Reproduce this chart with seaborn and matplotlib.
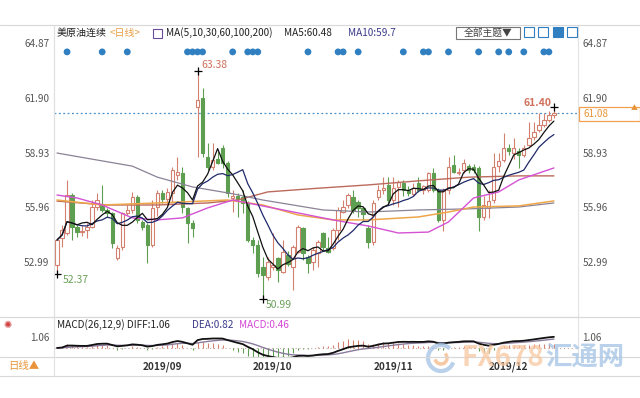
import numpy as np
import pandas as pd
import matplotlib
matplotlib.use("Agg")
import matplotlib.pyplot as plt
from matplotlib.patches import Rectangle, Arc
from matplotlib.lines import Line2D
import seaborn as sns

# daily candles (USD/bbl)
OPEN = [52.83, 54.30, 54.57, 56.63, 54.90, 54.62, 54.73, 54.90, 55.98, 56.09,
        55.82, 55.66, 53.21, 53.81, 55.66, 55.82, 56.53, 55.17, 55.01, 53.92,
        55.98, 56.74, 56.42, 56.74, 57.72, 57.83, 55.93, 55.12, 61.41, 61.90,
        58.70, 58.15, 58.60, 59.19, 58.37, 56.45, 56.60, 56.53, 56.20, 54.19,
        53.92, 52.73, 52.18, 52.73, 53.21, 52.45, 53.40, 52.73, 53.54, 54.84,
        53.27, 53.00, 53.49, 54.57, 53.76, 53.76, 54.73, 55.71, 56.09, 56.53,
        56.25, 55.93, 54.84, 54.08, 56.53, 56.90, 57.18, 56.36, 57.07, 57.29,
        56.91, 56.70, 57.29, 56.91, 56.91, 57.83, 56.91, 55.28, 56.91, 58.26,
        57.80, 58.00, 58.20, 58.15, 58.10, 55.44, 55.90, 56.36, 58.20, 58.53,
        59.19, 58.90, 59.00, 58.80, 59.35, 59.78, 60.16, 60.43, 60.71, 60.95]
HIGH = [54.30, 55.01, 57.45, 56.74, 55.01, 54.95, 55.10, 56.36, 56.74, 57.18,
        55.93, 55.71, 53.92, 55.71, 56.09, 56.80, 56.63, 55.28, 55.12, 56.36,
        56.91, 56.90, 57.00, 58.15, 58.70, 58.15, 55.98, 55.28, 63.38, 62.44,
        59.46, 59.46, 59.00, 59.35, 58.50, 56.90, 56.75, 56.91, 56.30, 54.35,
        54.19, 53.27, 53.27, 54.57, 53.27, 54.19, 53.60, 53.92, 55.01, 54.90,
        53.38, 53.81, 54.19, 54.62, 54.35, 54.84, 55.98, 56.36, 56.74, 56.91,
        56.36, 56.00, 55.00, 56.36, 57.18, 57.60, 57.60, 57.60, 57.45, 57.45,
        57.10, 57.30, 57.60, 57.20, 57.90, 58.10, 57.00, 57.00, 58.70, 58.80,
        58.10, 58.60, 58.30, 58.30, 58.20, 56.60, 56.90, 58.90, 58.90, 60.00,
        59.40, 59.70, 59.20, 59.35, 60.60, 60.60, 61.10, 61.10, 61.20, 61.40]
LOW = [52.37, 53.81, 54.46, 54.19, 54.35, 54.40, 54.30, 54.84, 55.82, 55.71,
       55.44, 53.76, 53.11, 53.65, 55.55, 55.66, 55.12, 54.73, 52.94, 53.81,
       55.50, 56.20, 56.10, 56.20, 57.45, 55.66, 54.03, 54.35, 58.70, 58.70,
       57.99, 57.99, 58.30, 58.10, 56.50, 55.70, 55.45, 55.66, 54.08, 53.49,
       52.18, 50.99, 52.02, 52.56, 51.90, 52.40, 52.80, 51.48, 53.49, 53.11,
       52.40, 52.56, 52.73, 53.65, 53.49, 53.65, 54.19, 55.66, 55.93, 55.66,
       55.44, 55.20, 53.76, 53.92, 56.36, 56.70, 56.09, 56.10, 55.98, 56.60,
       56.60, 56.60, 56.80, 56.70, 56.80, 56.80, 55.17, 54.70, 56.70, 57.80,
       57.70, 57.80, 57.80, 57.80, 54.70, 55.30, 55.40, 56.20, 57.90, 58.40,
       58.80, 58.60, 58.10, 58.70, 59.30, 59.60, 60.05, 60.30, 60.60, 60.80]
CLOSE = [54.19, 54.73, 56.63, 54.90, 54.62, 54.70, 54.90, 55.98, 56.36, 55.82,
         55.66, 54.03, 53.76, 55.66, 55.82, 56.53, 55.28, 54.90, 53.92, 55.93,
         56.74, 56.42, 56.80, 57.99, 57.88, 55.98, 55.12, 54.84, 61.79, 58.91,
         58.15, 58.53, 58.37, 58.37, 56.74, 56.60, 56.40, 56.20, 54.19, 53.92,
         52.40, 52.29, 53.00, 52.83, 52.56, 53.54, 52.90, 53.81, 54.90, 53.49,
         52.94, 53.65, 54.08, 53.81, 53.54, 54.73, 55.82, 55.98, 56.63, 55.82,
         55.93, 55.60, 54.08, 56.20, 56.91, 57.00, 56.36, 57.00, 57.34, 56.91,
         56.74, 57.00, 56.91, 57.10, 57.83, 56.91, 55.28, 56.91, 58.15, 57.88,
         57.90, 58.37, 58.00, 57.99, 55.44, 56.09, 56.30, 58.15, 58.50, 59.19,
         59.00, 59.19, 58.80, 59.19, 59.73, 60.05, 60.43, 60.71, 60.95, 61.08]

# longer moving averages, read at a few candles
MA30_IDX = [0, 4, 9, 15, 20, 25, 30, 35, 40, 48, 55, 62, 68, 74, 78, 83, 88, 92, 99]
MA30_VAL = [56.63, 56.47, 56.09, 55.39, 55.28, 55.39, 55.93, 56.36, 56.09, 55.66,
            55.28, 54.95, 54.57, 54.62, 55.17, 56.47, 56.80, 57.45, 58.10]
MA60_IDX = [0, 9, 20, 34, 41, 48, 55, 62, 72, 78, 83, 92, 99]
MA60_VAL = [56.36, 56.09, 56.20, 56.36, 56.09, 55.55, 55.28, 55.28, 55.44, 55.71,
            55.98, 56.04, 56.31]
MA100_IDX = [0, 8, 15, 20, 27, 35, 41, 47, 53, 62, 72, 82, 92, 99]
MA100_VAL = [58.91, 58.53, 58.20, 57.60, 57.07, 56.70, 56.36, 56.09, 55.82, 55.71,
             55.82, 55.88, 55.98, 56.20]
MA200_IDX = [0, 10, 20, 30, 36, 42, 52, 62, 72, 82, 92, 99]
MA200_VAL = [56.30, 56.09, 56.09, 56.20, 56.36, 56.80, 57.00, 57.18, 57.40, 57.60,
             57.67, 57.67]

EVENT_IDX = [2, 9, 14, 26, 27, 28, 29, 35, 38, 39, 40, 50, 56, 57, 60, 69, 73, 74,
             78, 84, 88, 90, 93, 97, 98]
MONTH_IDX = [21, 43, 67, 90]
MONTH_LABELS = ["2019/09", "2019/10", "2019/11", "2019/12"]
Y_TICKS = [52.99, 55.96, 58.93, 61.90, 64.87]
LAST_PRICE = 61.08

UP, DOWN = "#d4806f", "#5e9e50"
W, H = 640, 398


def fx(px):
    return px / W


def fy(py):
    return 1 - py / H


sns.set_theme(style="white")
plt.rcParams["font.family"] = ["Noto Sans CJK SC", "DejaVu Sans"]

fig = plt.figure(figsize=(6.4, 3.98), dpi=100)
ax = fig.add_axes([fx(54), fy(317), fx(578 - 54), (317 - 25) / H])
axm = fig.add_axes([fx(54), fy(357), fx(578 - 54), (357 - 317) / H], sharex=ax)

df = pd.DataFrame({"open": OPEN, "high": HIGH, "low": LOW, "close": CLOSE})
df["i"] = np.arange(len(df))
rising = df["close"] >= df["open"]

# candles
for colr, face, mask in ((UP, "white", rising), (DOWN, DOWN, ~rising)):
    d = df[mask]
    ax.vlines(d["i"], d["low"], d["high"], color=colr, lw=0.8, zorder=2)
    lo = np.minimum(d["open"], d["close"])
    hgt = np.maximum((d["close"] - d["open"]).abs(), 0.05)
    ax.bar(d["i"], hgt, bottom=lo, width=0.68, facecolor=face, edgecolor=colr,
           lw=0.8, zorder=3)

# moving averages
ma5 = df["close"].rolling(5, min_periods=1).mean()
ma10 = df["close"].rolling(10, min_periods=1).mean()
sns.lineplot(x=MA200_IDX, y=MA200_VAL, color="#bb6a5c", lw=1.0, ax=ax, zorder=4)
sns.lineplot(x=MA100_IDX, y=MA100_VAL, color="#8a8296", lw=0.9, ax=ax, zorder=4)
sns.lineplot(x=MA60_IDX, y=MA60_VAL, color="#eea64a", lw=1.1, ax=ax, zorder=4)
sns.lineplot(x=MA30_IDX, y=MA30_VAL, color="#d452d4", lw=1.0, ax=ax, zorder=4)
sns.lineplot(x=df["i"], y=ma10, color="#1f2a6a", lw=0.9, ax=ax, zorder=5)
sns.lineplot(x=df["i"], y=ma5, color="#111111", lw=0.9, ax=ax, zorder=5)

# event markers along the top
sns.scatterplot(x=EVENT_IDX, y=[64.40] * len(EVENT_IDX), color="#2f7fc1", s=24,
                edgecolor="none", ax=ax, zorder=6)

# last price line
ax.axhline(LAST_PRICE, color="#4a90c8", lw=0.9, ls=(0, (1.5, 2)), zorder=1)

# extremes
hi_i, lo_i = int(df["high"].idxmax()), int(df["low"].idxmin())
first_lo = int(df["low"].iloc[:20].idxmin())
for idx, val in ((hi_i, HIGH[hi_i]), (lo_i, LOW[lo_i]), (first_lo, LOW[first_lo]), (99, HIGH[99])):
    ax.plot(idx, val, marker="+", color="black", ms=6, mew=0.9, zorder=7)
ax.annotate(f"{HIGH[hi_i]:.2f}", (hi_i, HIGH[hi_i]), xytext=(3, 4), textcoords="offset points",
            color="#d0705a", fontsize=7.5, va="center")
ax.annotate(f"{LOW[lo_i]:.2f}", (lo_i, LOW[lo_i]), xytext=(2, -1), textcoords="offset points",
            color="#6aa05a", fontsize=7.5, va="top")
ax.annotate(f"{LOW[first_lo]:.2f}", (first_lo, LOW[first_lo]), xytext=(4, -1), textcoords="offset points",
            color="#6aa05a", fontsize=7.5, va="top")
ax.annotate(f"{HIGH[99]:.2f}", (99, HIGH[99]), xytext=(-2, 3), textcoords="offset points",
            color="#d0705a", fontsize=7.5, va="center", ha="right", fontweight="bold")

ax.set_xlim(-0.6, 103.8)
ax.set_ylim(50.01, 65.86)
ax.set_yticks(Y_TICKS)
ax.set_yticklabels([f"{v:.2f}" for v in Y_TICKS])
ax.tick_params(axis="y", labelleft=True, labelright=True, left=False, right=False,
               length=0, labelsize=7.2, colors="#555555", pad=3.2)
ax.tick_params(axis="x", bottom=False, labelbottom=False, length=0)
ax.set_xlabel("")
ax.set_ylabel("")
for s in ax.spines.values():
    s.set_color("#e2e2e2")
    s.set_linewidth(0.8)
ax.spines["top"].set_visible(False)

# MACD panel
ema12 = df["close"].ewm(span=12, adjust=False).mean()
ema26 = df["close"].ewm(span=26, adjust=False).mean()
diff = ema12 - ema26
dea = diff.ewm(span=9, adjust=False).mean()
hist = 2 * (diff - dea)
axm.axhline(0, color="#c9a6a0", lw=0.8, ls=(0, (1, 2.5)), zorder=1)
axm.vlines(df["i"][hist >= 0], 0, hist[hist >= 0], color=UP, lw=0.8, zorder=2)
axm.vlines(df["i"][hist < 0], 0, hist[hist < 0], color=DOWN, lw=0.8, zorder=2)
sns.lineplot(x=df["i"], y=dea, color="#8a7a9c", lw=1.0, ax=axm, zorder=3)
sns.lineplot(x=df["i"], y=diff, color="#111111", lw=1.3, ax=axm, zorder=4)
axm.set_ylim(-0.87, 2.98)
axm.set_yticks([1.06])
axm.set_yticklabels(["1.06"])
axm.tick_params(axis="y", labelleft=True, labelright=True, left=False, right=False,
                length=0, labelsize=7.2, colors="#555555", pad=3.2)
axm.set_xticks(MONTH_IDX)
axm.set_xticklabels(MONTH_LABELS, fontsize=7.2, fontweight="bold", color="#333333")
axm.tick_params(axis="x", bottom=False, length=0, pad=3)
axm.set_xlabel("")
axm.set_ylabel("")
for s in axm.spines.values():
    s.set_color("#e2e2e2")
    s.set_linewidth(0.8)

# frame lines
for py in (25, 317, 357, 376):
    fig.add_artist(Line2D([0, 1], [fy(py), fy(py)], color="#d8d8d8", lw=0.8,
                          transform=fig.transFigure))
fig.add_artist(Line2D([fx(54), fx(54)], [fy(25), fy(376)], color="#e0e0e0", lw=0.8,
                      transform=fig.transFigure))

# header
hy = fy(33)
fig.text(fx(57), hy, "美原油连续", fontsize=7.2, color="#222222", va="center")
fig.text(fx(110), hy, "<日线>", fontsize=7.2, color="#e8a048", va="center")
fig.patches.append(Rectangle((fx(153), fy(38)), fx(9), 9 / H, fill=False, ec="#6a4a9a",
                             lw=0.8, transform=fig.transFigure, figure=fig))
fig.text(fx(166), hy, "MA(5,10,30,60,100,200)", fontsize=7.2, color="#222222", va="center")
fig.text(fx(284), hy, "MA5:60.48", fontsize=7.2, color="#222222", va="center")
fig.text(fx(348), hy, "MA10:59.7", fontsize=7.2, color="#3a3a8a", va="center")

fig.patches.append(Rectangle((fx(456), fy(39)), fx(64), 12 / H, fill=False, ec="#777777",
                             lw=0.8, transform=fig.transFigure, figure=fig))
fig.text(fx(488), fy(33), "全部主题▼", fontsize=7, color="#444444", va="center", ha="center")
for k, x0 in enumerate((524, 538, 553, 567)):
    fig.patches.append(Rectangle((fx(x0), fy(37)), fx(10), 10 / H,
                                 fill=(k == 2), fc="#2f7fc1", ec="#2f7fc1", lw=0.8,
                                 transform=fig.transFigure, figure=fig))

# MACD header
my = fy(325)
fig.text(fx(57), my, "MACD(26,12,9) DIFF:1.06", fontsize=7.2, color="#222222", va="center")
fig.text(fx(192), my, "DEA:0.82", fontsize=7.2, color="#3a3a8a", va="center")
fig.text(fx(239), my, "MACD:0.46", fontsize=7.2, color="#d448d4", va="center")
fig.text(fx(3), my, "✺", fontsize=7, color="#d04040", va="center", family="DejaVu Sans")

# bottom row
fig.text(fx(8), fy(366), "日线▲", fontsize=7.5, color="#e8953a", va="center")

# last price tag on the right
fig.patches.append(Rectangle((fx(579), fy(121)), fx(61), 14 / H, fill=False, ec="#f0a050",
                             lw=0.9, transform=fig.transFigure, figure=fig))
fig.text(fx(583), fy(114), f"{LAST_PRICE:.2f}", fontsize=7.2, color="#e8953a", va="center")
fig.text(fx(634), fy(108), "▲", fontsize=5, color="#e8953a", va="center", ha="center")

# watermark
fig.patches.append(Arc((fx(441), fy(358)), fx(26), 26 / H, theta1=60, theta2=330,
                       lw=3, color="#a9c6e6", alpha=0.8, transform=fig.transFigure, figure=fig))
fig.patches.append(Arc((fx(441), fy(358)), fx(12), 12 / H, theta1=200, theta2=60,
                       lw=2.5, color="#f6c49a", alpha=0.9, transform=fig.transFigure, figure=fig))
fig.text(fx(462), fy(358), "FX678", fontsize=20, fontweight="bold", color="#f8c7a0",
         alpha=0.75, va="center")
fig.text(fx(545), fy(358), "汇通网", fontsize=19, fontweight="bold", color="#a9c6e6",
         alpha=0.8, va="center")

fig.savefig("out.png", dpi=100, facecolor="white")
